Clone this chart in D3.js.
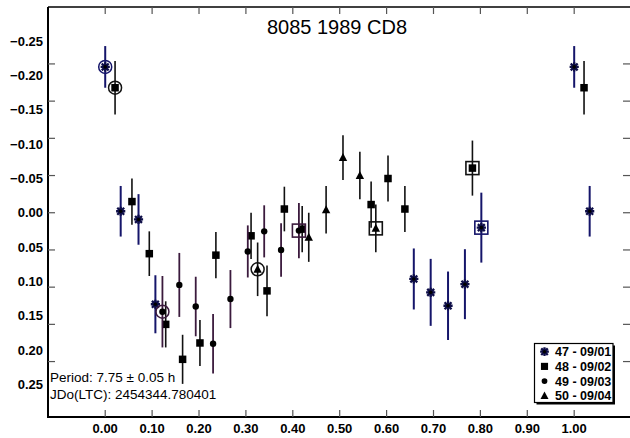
<!DOCTYPE html>
<html>
<head>
<meta charset="utf-8">
<script src="https://cdn.jsdelivr.net/npm/d3@7"></script>
<style>
  html, body { margin: 0; padding: 0; background: #fff; }
  svg { display: block; font-family: "Liberation Sans", Arial, sans-serif; }
</style>
</head>
<body>
<svg id="chart" width="630" height="438"></svg>
<script>
// Lightcurve of (8085) 1989 CD8, folded on the rotation period.
const titleText = "8085 1989 CD8";
const periodText = "Period: 7.75 \u00b1 0.05 h";
const epochText = "JDo(LTC): 2454344.780401";

// Session 47 - 09/01
const s47Phase = [0.000, 0.033, 0.071, 0.107, 0.658, 0.694, 0.731, 0.767, 0.802];
const s47Mag   = [-0.196, -0.002, 0.009, 0.123, 0.089, 0.107, 0.125, 0.096, 0.020];
const s47Err   = [0.028, 0.034, 0.034, 0.039, 0.041, 0.045, 0.046, 0.047, 0.047];

// Session 48 - 09/02
const s48Phase = [0.021, 0.057, 0.094, 0.129, 0.165, 0.202, 0.236, 0.311, 0.345, 0.382, 0.420, 0.567, 0.603, 0.639, 0.783];
const s48Mag   = [-0.168, -0.015, 0.055, 0.150, 0.197, 0.175, 0.057, 0.031, 0.105, -0.005, 0.022, -0.011, -0.046, -0.005, -0.060];
const s48Err   = [0.036, 0.031, 0.030, 0.031, 0.033, 0.031, 0.031, 0.031, 0.034, 0.030, 0.031, 0.031, 0.031, 0.031, 0.037];

// Session 49 - 09/03
const s49Phase = [0.122, 0.158, 0.193, 0.230, 0.267, 0.304, 0.339, 0.375, 0.413];
const s49Mag   = [0.133, 0.097, 0.126, 0.176, 0.116, 0.052, 0.025, 0.050, 0.024];
const s49Err   = [0.048, 0.043, 0.040, 0.040, 0.039, 0.035, 0.035, 0.036, 0.037];

// Session 50 - 09/04
const s50Phase = [0.325, 0.434, 0.471, 0.507, 0.543, 0.577];
const s50Mag   = [0.076, 0.033, -0.004, -0.074, -0.050, 0.021];
const s50Err   = [0.036, 0.033, 0.032, 0.030, 0.032, 0.032];

const sessionLabels = ["47 - 09/01", "48 - 09/02", "49 - 09/03", "50 - 09/04"];

// Axis ticks and labels
const xTicks = [0.0, 0.1, 0.2, 0.3, 0.4, 0.5, 0.6, 0.7, 0.8, 0.9, 1.0];
const yTicks = [-0.20, -0.15, -0.10, -0.05, 0.00, 0.05, 0.10, 0.15, 0.20];
const yTickLabels = [-0.25, -0.20, -0.15, -0.10, -0.05, 0.00, 0.05, 0.10, 0.15, 0.20, 0.25];

// Points before this phase are repeated one cycle later
const wrapLimit = 1.05;

const svg = d3.select("#chart");
const W = 630, H = 438;
const plot = { left: 48, right: 630, top: 7, bottom: 417 };

const x = d3.scaleLinear().domain([-0.122, 1.119]).range([plot.left, plot.right]);
const y = d3.scaleLinear().domain([-0.2765, 0.2745]).range([plot.top, plot.bottom]);
// magnitude labels sit on a slightly tighter spacing than the tick marks
const yLab = d3.scaleLinear().domain([-0.25, 0.25]).range([41, 384.5]);

svg.append("rect").attr("width", W).attr("height", H).attr("fill", "#fff");

const navy = "#15156a";
const purple = "#3b1a3d";
const series = [
  { phase: s47Phase, mag: s47Mag, err: s47Err, shape: "asterisk", color: "#0e0e48", bar: navy, barW: 2 },
  { phase: s48Phase, mag: s48Mag, err: s48Err, shape: "square", color: "#000", bar: "#111", barW: 1.6 },
  { phase: s49Phase, mag: s49Mag, err: s49Err, shape: "circle", color: "#000", bar: purple, barW: 1.8 },
  { phase: s50Phase, mag: s50Mag, err: s50Err, shape: "triangle", color: "#000", bar: "#111", barW: 1.6 }
];

// Frame: top, left and bottom edges
svg.append("line").attr("x1", plot.left).attr("x2", plot.right).attr("y1", plot.top).attr("y2", plot.top)
  .attr("stroke", "#000").attr("stroke-width", 1.5);
svg.append("line").attr("x1", plot.left).attr("x2", plot.left).attr("y1", plot.top).attr("y2", plot.bottom + 1)
  .attr("stroke", "#000").attr("stroke-width", 2);
svg.append("line").attr("x1", plot.left - 1).attr("x2", plot.right).attr("y1", plot.bottom).attr("y2", plot.bottom)
  .attr("stroke", "#000").attr("stroke-width", 2);

// Inward tick marks
const tickLen = 7;
const ticks = svg.append("g").attr("stroke", "#555").attr("stroke-width", 1.2);
xTicks.forEach(t => {
  ticks.append("line").attr("x1", x(t)).attr("x2", x(t)).attr("y1", plot.bottom).attr("y2", plot.bottom - tickLen);
  ticks.append("line").attr("x1", x(t)).attr("x2", x(t)).attr("y1", plot.top).attr("y2", plot.top + tickLen);
});
yTicks.forEach(t => {
  ticks.append("line").attr("x1", plot.left).attr("x2", plot.left + tickLen).attr("y1", y(t)).attr("y2", y(t));
  ticks.append("line").attr("x1", plot.right).attr("x2", plot.right - tickLen).attr("y1", y(t)).attr("y2", y(t));
});

// Tick labels
const fmt = d3.format(".2f");
svg.append("g").selectAll("text").data(xTicks).join("text")
  .attr("x", d => x(d)).attr("y", 433)
  .attr("text-anchor", "middle").attr("font-size", 13).attr("font-weight", "bold")
  .text(d => fmt(d));
svg.append("g").selectAll("text").data(yTickLabels).join("text")
  .attr("x", 43).attr("y", d => yLab(d)).attr("dy", "0.36em")
  .attr("text-anchor", "end").attr("font-size", 13).attr("font-weight", "bold")
  .text(d => fmt(d).replace("-0.00", "0.00"));

// Title and fit info
svg.append("text").attr("x", 337).attr("y", 34).attr("text-anchor", "middle")
  .attr("font-size", 20).text(titleText);
svg.append("text").attr("x", 50).attr("y", 381.5).attr("font-size", 13.5).text(periodText);
svg.append("text").attr("x", 50).attr("y", 399).attr("font-size", 13.5).text(epochText);

// Marker drawing
function drawMarker(g, shape, cx, cy, color, scale = 1) {
  if (shape === "asterisk") {
    const r = 4.6 * scale, d = r * 0.75;
    const p = `M${cx - r},${cy}L${cx + r},${cy}M${cx},${cy - r}L${cx},${cy + r}` +
              `M${cx - d},${cy - d}L${cx + d},${cy + d}M${cx - d},${cy + d}L${cx + d},${cy - d}`;
    g.append("path").attr("d", p).attr("stroke", color).attr("stroke-width", 2.3).attr("fill", "none");
    g.append("circle").attr("cx", cx).attr("cy", cy).attr("r", 1.8 * scale).attr("fill", "#000");
  } else if (shape === "square") {
    const s = 7.5 * scale;
    g.append("rect").attr("x", cx - s / 2).attr("y", cy - s / 2).attr("width", s).attr("height", s).attr("fill", color);
  } else if (shape === "circle") {
    g.append("circle").attr("cx", cx).attr("cy", cy).attr("r", 3.2 * scale).attr("fill", color);
  } else if (shape === "triangle") {
    const s = 4.2 * scale;
    g.append("path").attr("d", `M${cx},${cy - s * 1.1}L${cx + s},${cy + s * 0.8}L${cx - s},${cy + s * 0.8}Z`).attr("fill", color);
  }
}

const pts = svg.append("g");
series.forEach(sr => {
  const rows = sr.phase.map((p, i) => ({ p, m: sr.mag[i], e: sr.err[i], first: i === 0, last: i === sr.phase.length - 1 }));
  const wrapped = rows.filter(r => r.p + 1 <= wrapLimit).map(r => ({ p: r.p + 1, m: r.m, e: r.e, first: false, last: false }));
  const all = rows.concat(wrapped);
  // error bars
  pts.append("g").selectAll("line").data(all).join("line")
    .attr("x1", d => x(d.p)).attr("x2", d => x(d.p))
    .attr("y1", d => y(d.m - d.e)).attr("y2", d => y(d.m + d.e))
    .attr("stroke", sr.bar).attr("stroke-width", sr.barW);
  const mg = pts.append("g");
  all.forEach(d => {
    const cx = x(d.p), cy = y(d.m);
    drawMarker(mg, sr.shape, cx, cy, sr.color);
    if (d.first) {
      mg.append("circle").attr("cx", cx).attr("cy", cy).attr("r", 6.5)
        .attr("fill", "none").attr("stroke", sr.bar).attr("stroke-width", 1.5);
    }
    if (d.last) {
      mg.append("rect").attr("x", cx - 6.5).attr("y", cy - 6.5).attr("width", 13).attr("height", 13)
        .attr("fill", "none").attr("stroke", sr.bar).attr("stroke-width", 1.6);
    }
  });
});

// Legend
const leg = svg.append("g");
const lx = 534.5, ly = 343.5, lw = 78.5, lh = 59;
leg.append("rect").attr("x", lx + 2).attr("y", ly + 2).attr("width", lw).attr("height", lh).attr("fill", "#000");
leg.append("rect").attr("x", lx).attr("y", ly).attr("width", lw).attr("height", lh)
  .attr("fill", "#fff").attr("stroke", "#000").attr("stroke-width", 1.2);
sessionLabels.forEach((lab, i) => {
  const cy = 351.7 + i * 14.7;
  const sr = series[i];
  drawMarker(leg, sr.shape, 544.5, cy, sr.color, sr.shape === "circle" ? 0.9 : 0.95);
  leg.append("text").attr("x", 555).attr("y", cy).attr("dy", "0.36em")
    .attr("font-size", 12.5).attr("font-weight", "bold").text(lab);
});
</script>
</body>
</html>
